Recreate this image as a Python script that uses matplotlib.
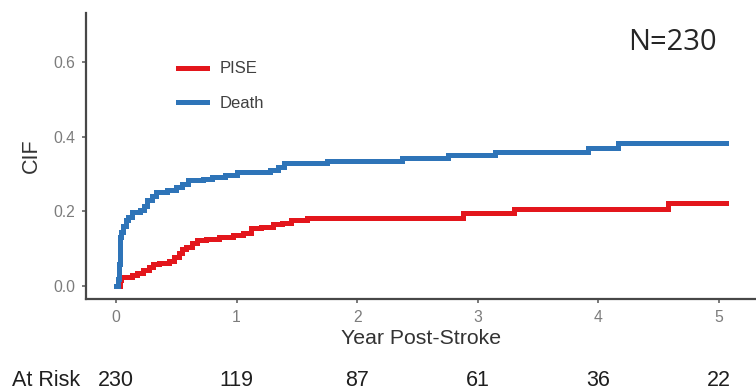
import matplotlib
matplotlib.use("Agg")
import matplotlib.pyplot as plt
from matplotlib.transforms import blended_transform_factory

# Cumulative incidence step functions (time in years, CIF)
pise_t = [0.0, 0.03, 0.04, 0.13, 0.17, 0.22, 0.27, 0.31, 0.36, 0.44, 0.48,
          0.52, 0.55, 0.58, 0.63, 0.67, 0.75, 0.85, 0.97, 1.05, 1.12, 1.20,
          1.30, 1.38, 1.45, 1.58, 2.88, 3.30, 4.58, 5.06]
pise_cif = [0.0, 0.015, 0.024, 0.030, 0.035, 0.042, 0.050, 0.058, 0.062,
            0.068, 0.078, 0.088, 0.098, 0.104, 0.115, 0.122, 0.126, 0.131,
            0.136, 0.142, 0.155, 0.158, 0.165, 0.170, 0.176, 0.182, 0.196,
            0.206, 0.222, 0.222]

death_t = [0.0, 0.02, 0.025, 0.03, 0.035, 0.045, 0.06, 0.08, 0.10, 0.13,
           0.20, 0.23, 0.26, 0.30, 0.33, 0.42, 0.50, 0.55, 0.60, 0.72, 0.80,
           0.90, 1.00, 1.28, 1.34, 1.39, 1.75, 2.37, 2.75, 3.14, 3.91, 4.16,
           5.06]
death_cif = [0.0, 0.02, 0.06, 0.10, 0.13, 0.145, 0.160, 0.177, 0.185, 0.198,
             0.204, 0.215, 0.230, 0.242, 0.252, 0.257, 0.265, 0.272, 0.284,
             0.287, 0.292, 0.297, 0.305, 0.310, 0.319, 0.329, 0.336, 0.342,
             0.351, 0.358, 0.369, 0.382, 0.382]

x_ticks = [0, 1, 2, 3, 4, 5]
y_ticks = [0.0, 0.2, 0.4, 0.6]
risk_years = [0, 1, 2, 3, 4, 5]
at_risk = [230, 119, 87, 61, 36, 22]

RED = "#e3161c"
BLUE = "#2e74b8"

plt.rcParams["font.family"] = ["Liberation Sans", "DejaVu Sans"]

fig = plt.figure(figsize=(7.56, 3.92), dpi=100)
ax = fig.add_axes([86 / 756, 1 - 298.5 / 392, 1 - 86 / 756, (298.5 - 13) / 392])

ax.step(pise_t, pise_cif, where="post", color=RED, lw=3.6, label="PISE",
        solid_joinstyle="miter")
ax.step(death_t, death_cif, where="post", color=BLUE, lw=3.6, label="Death",
        solid_joinstyle="miter")

ax.set_xlim(-0.249, 5.307)
ax.set_ylim(-0.0335, 0.731)
ax.set_xticks(x_ticks)
ax.set_yticks(y_ticks)
ax.set_yticklabels([f"{v:.1f}" for v in y_ticks])

for side in ("top", "right"):
    ax.spines[side].set_visible(False)
for side in ("left", "bottom"):
    ax.spines[side].set_color("#474747")
    ax.spines[side].set_linewidth(1.6)

ax.tick_params(axis="both", length=3, width=1.1, color="#555555",
               labelcolor="#7c7c7c", labelsize=11.3, pad=5)

ax.set_xlabel("Year Post-Stroke", fontsize=15.3, color="#333333", labelpad=3)
ax.set_ylabel("CIF", fontsize=15.5, color="#333333", labelpad=8)

leg = ax.legend(loc="center left", bbox_to_anchor=(178 / 756, 1 - 86 / 392),
                bbox_transform=fig.transFigure, frameon=False, fontsize=12,
                handlelength=1.75, handletextpad=0.75, labelspacing=1.15,
                borderpad=0, borderaxespad=0)
for txt in leg.get_texts():
    txt.set_color("#404040")

fig.text(717 / 756, 1 - 43 / 392, "N=230", ha="right", va="center",
         fontsize=21, family=["Open Sans", "DejaVu Sans"], color="#262626")

# Numbers at risk beneath the x axis
risk_tr = blended_transform_factory(ax.transData, fig.transFigure)
risk_y = 1 - 380 / 392
fig.text(12 / 756, risk_y, "At Risk", ha="left", va="center",
         fontsize=15.5, color="#1f1f1f")
for yr, n in zip(risk_years, at_risk):
    ax.text(yr, risk_y, str(n), transform=risk_tr, ha="center", va="center",
            fontsize=15.5, color="#1f1f1f", clip_on=False)

fig.savefig("out.png", dpi=100, facecolor="white")
